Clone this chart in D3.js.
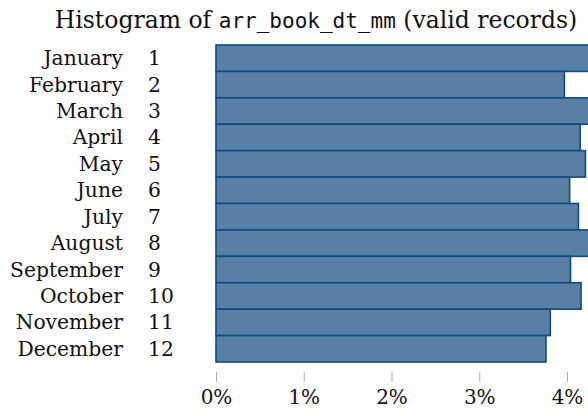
<!DOCTYPE html>
<html><head><meta charset="utf-8">
<script src="https://cdn.jsdelivr.net/npm/d3@7"></script>
<style>body{margin:0;background:#fff}svg{display:block}</style>
</head><body>
<script>
const months = ["January","February","March","April","May","June","July","August","September","October","November","December"];
const monthNums = ["1","2","3","4","5","6","7","8","9","10","11","12"];
const percents = [4.45, 3.97, 4.50, 4.15, 4.21, 4.03, 4.13, 4.55, 4.04, 4.16, 3.81, 3.76];
const tickValues = [0, 1, 2, 3, 4];
const tickLabels = ["0%","1%","2%","3%","4%"];

const W = 588, H = 416;
const serif = "DejaVu Serif";
const mono = "DejaVu Sans Mono";

const svg = d3.select("body").append("svg").attr("width", W).attr("height", H);

const x = d3.scaleLinear().domain([0, 4]).range([216, 567]);
const y = d3.scaleBand().domain(monthNums).range([45, 362]).padding(0);

// title
const title = svg.append("text").attr("x", 316).attr("y", 28)
  .attr("text-anchor", "middle").style("font-family", serif).style("font-size", "23.5px").attr("fill", "#111");
title.append("tspan").text("Histogram of ");
title.append("tspan").style("font-family", mono).style("font-size", "21px").text("arr_book_dt_mm");
title.append("tspan").text(" (valid records)");

// bars
svg.append("g").selectAll("rect").data(percents).join("rect")
  .attr("x", x(0))
  .attr("y", (d, i) => y(monthNums[i]))
  .attr("width", d => x(d) - x(0))
  .attr("height", y.bandwidth())
  .attr("fill", "#5a7fa5")
  .attr("stroke", "#0f4a80")
  .attr("stroke-width", 1.6);

// y labels
const lab = svg.append("g").style("font-family", serif).style("font-size", "20.3px").attr("fill", "#111");
lab.selectAll("text.m").data(months).join("text").attr("class", "m")
  .attr("x", 123).attr("y", (d, i) => y(monthNums[i]) + y.bandwidth() / 2 + 7)
  .attr("text-anchor", "end").text(d => d);
lab.selectAll("text.n").data(monthNums).join("text").attr("class", "n")
  .attr("x", 148).attr("y", d => y(d) + y.bandwidth() / 2 + 7)
  .attr("text-anchor", "start").text(d => d);

// x axis
const xAxis = d3.axisBottom(x).tickValues(tickValues).tickFormat((d, i) => tickLabels[i]).tickSize(10).tickPadding(8);
const gx = svg.append("g").attr("transform", "translate(0,372)").call(xAxis);
gx.select(".domain").remove();
gx.selectAll(".tick line").attr("stroke", "#aaa").attr("stroke-width", 1);
gx.selectAll(".tick text").style("font-family", serif).style("font-size", "20px").attr("fill", "#111");
</script>
</body></html>
